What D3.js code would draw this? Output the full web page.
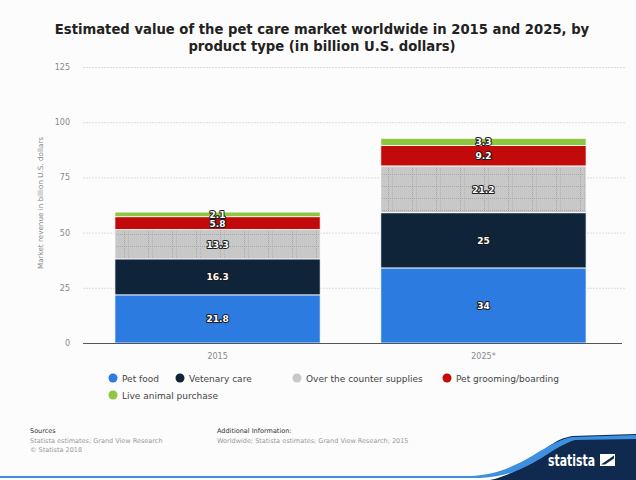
<!DOCTYPE html>
<html>
<head>
<meta charset="utf-8">
<script src="https://cdn.jsdelivr.net/npm/d3@7/dist/d3.min.js"></script>
<style>
  html, body { margin: 0; padding: 0; background: #fff; }
  svg { display: block; }
</style>
</head>
<body>
<svg id="chart" width="636" height="480"></svg>
<script>
// Pet care market value by product type (billion U.S. dollars)
const years = ["2015", "2025*"];
const segments = ["Pet food", "Vetenary care", "Over the counter supplies", "Pet grooming/boarding", "Live animal purchase"];
const petFood = [21.8, 34];
const vetCare = [16.3, 25];
const otcSupplies = [13.3, 21.2];
const grooming = [5.8, 9.2];
const liveAnimal = [2.1, 3.3];
const yTicks = [0, 25, 50, 75, 100, 125];
const colors = ["#2b7be0", "#0f2438", "#c8c8c8", "#c20a0a", "#8dc63f"];

const seriesValues = [petFood, vetCare, otcSupplies, grooming, liveAnimal];
const rows = years.map((y, i) => {
  const r = { year: y };
  segments.forEach((s, k) => { r[s] = seriesValues[k][i]; });
  return r;
});

const svg = d3.select("#chart");
const W = 636, H = 480;

svg.append("rect").attr("width", W).attr("height", H).attr("fill", "#fcfcfc");

// hatch pattern for the supplies segment
const defs = svg.append("defs");
const pat = defs.append("pattern").attr("id", "hatch")
  .attr("patternUnits", "userSpaceOnUse").attr("width", 24).attr("height", 12);
pat.append("rect").attr("width", 24).attr("height", 12).attr("fill", colors[2]);
pat.append("line").attr("x1", 0).attr("x2", 24).attr("y1", 6.5).attr("y2", 6.5)
  .attr("stroke", "#9a9a9a").attr("stroke-width", 0.7).attr("stroke-dasharray", "1,1");
pat.append("line").attr("x1", 4.5).attr("x2", 4.5).attr("y1", 0).attr("y2", 12)
  .attr("stroke", "#9a9a9a").attr("stroke-width", 0.7).attr("stroke-dasharray", "1,1");
pat.append("line").attr("x1", 8.5).attr("x2", 8.5).attr("y1", 0).attr("y2", 12)
  .attr("stroke", "#a8a8a8").attr("stroke-width", 0.6).attr("stroke-dasharray", "1,1");

// title
const titleLines = [
  "Estimated value of the pet care market worldwide in 2015 and 2025, by",
  "product type (in billion U.S. dollars)"
];
svg.append("g").selectAll("text").data(titleLines).join("text")
  .attr("x", 322).attr("y", (d, i) => 34 + i * 17).attr("text-anchor", "middle")
  .attr("font-family", "DejaVu Sans, sans-serif").attr("font-weight", "bold")
  .attr("font-size", 13.2).attr("fill", "#222")
  .text(d => d);

const x = d3.scaleBand().domain(years).range([83, 618]).paddingInner(0.228).paddingOuter(0.12);
const y = d3.scaleLinear().domain([0, 125]).range([343, 67]);

// gridlines
svg.append("g").selectAll("line").data(yTicks.filter(t => t > 0)).join("line")
  .attr("x1", 83).attr("x2", 625)
  .attr("y1", d => y(d) + 0.5).attr("y2", d => y(d) + 0.5)
  .attr("stroke", "#dcdcdc").attr("stroke-width", 1).attr("stroke-dasharray", "2,1");

// y axis labels
const yAxis = d3.axisLeft(y).tickValues(yTicks).tickSize(0).tickPadding(0);
const gy = svg.append("g").attr("transform", "translate(70,0)").call(yAxis);
gy.select(".domain").remove();
gy.selectAll("text").attr("font-family", "DejaVu Sans, sans-serif")
  .attr("font-size", 8).attr("fill", "#888");

svg.append("text").attr("transform", "translate(43,203) rotate(-90)")
  .attr("text-anchor", "middle").attr("font-family", "DejaVu Sans, sans-serif")
  .attr("font-size", 7.2).attr("fill", "#888")
  .text("Market revenue in billion U.S. dollars");

// stacked bars
const stacked = d3.stack().keys(segments)(rows);
const layers = svg.append("g").selectAll("g").data(stacked).join("g")
  .attr("fill", (d, i) => i === 2 ? "url(#hatch)" : colors[i]);
layers.selectAll("rect").data(d => d).join("rect")
  .attr("x", d => x(d.data.year))
  .attr("width", x.bandwidth())
  .attr("y", d => y(d[1]))
  .attr("height", d => y(d[0]) - y(d[1]))
  .attr("stroke", "#fff").attr("stroke-width", 0.8);

// x axis
const gx = svg.append("g").attr("transform", "translate(0,343.5)")
  .call(d3.axisBottom(x).tickSize(0).tickPadding(10));
gx.select(".domain").attr("stroke", "#555").attr("d", "M83,0H622");
gx.selectAll("text").attr("font-family", "DejaVu Sans, sans-serif")
  .attr("font-size", 8).attr("fill", "#888");

// value labels
const lbl = svg.append("g");
stacked.forEach(layer => {
  layer.forEach(d => {
    const v = d.data[layer.key];
    const cy = (y(d[0]) + y(d[1])) / 2;
    lbl.append("text")
      .attr("x", x(d.data.year) + x.bandwidth() / 2)
      .attr("y", cy + 3.5)
      .attr("text-anchor", "middle")
      .attr("font-family", "DejaVu Sans, sans-serif")
      .attr("font-weight", "bold").attr("font-size", 9)
      .attr("fill", "#fff").attr("stroke", "#1a1a1a").attr("stroke-width", 2)
      .attr("paint-order", "stroke").attr("stroke-linejoin", "round")
      .text(v);
  });
});

// legend
const legendItems = [
  { k: 0, x: 113, y: 378 }, { k: 1, x: 180, y: 378 }, { k: 2, x: 297, y: 378 },
  { k: 3, x: 447, y: 378 }, { k: 4, x: 113, y: 395 }
];
const lg = svg.append("g");
legendItems.forEach(it => {
  lg.append("circle").attr("cx", it.x).attr("cy", it.y).attr("r", 4.5)
    .attr("fill", colors[it.k]);
  lg.append("text").attr("x", it.x + 9).attr("y", it.y + 3.5)
    .attr("font-family", "DejaVu Sans, sans-serif").attr("font-size", 9)
    .attr("fill", "#444").text(segments[it.k]);
});

// footer
const foot = svg.append("g").attr("font-family", "DejaVu Sans, sans-serif").attr("font-size", 6.5);
foot.append("text").attr("x", 30).attr("y", 433).attr("fill", "#333").text("Sources");
foot.append("text").attr("x", 30).attr("y", 443).attr("fill", "#999").text("Statista estimates; Grand View Research");
foot.append("text").attr("x", 30).attr("y", 452).attr("fill", "#999").text("© Statista 2018");
foot.append("text").attr("x", 217).attr("y", 433).attr("fill", "#333").text("Additional Information:");
foot.append("text").attr("x", 217).attr("y", 443).attr("fill", "#999").text("Worldwide; Statista estimates; Grand View Research; 2015");

// logo swoosh
svg.append("path")
  .attr("d", "M490,480 C535,470 540,442 572,436 L636,434 L636,480 Z")
  .attr("fill", "#0f2a4e");
svg.append("path")
  .attr("d", "M0,476 L470,476 C520,474 540,444 572,437 L636,435 L636,439 L575,440 C548,448 530,476 480,478 L0,478 Z")
  .attr("fill", "#3d8fe0");
svg.append("text").attr("x", 548).attr("y", 466)
  .attr("font-family", "DejaVu Sans Condensed, DejaVu Sans, sans-serif").attr("font-weight", "bold")
  .attr("font-size", 15).attr("fill", "#fff").attr("text-anchor", "start")
  .attr("textLength", 47).attr("lengthAdjust", "spacingAndGlyphs")
  .text("statista");
// square brand mark
svg.append("rect").attr("x", 600).attr("y", 454).attr("width", 15).attr("height", 12)
  .attr("fill", "#ffffff");
svg.append("path").attr("d", "M601,464.5 L614,455.5 L614,458.5 L605,464.5 Z")
  .attr("fill", "#0f2a4e");
</script>
</body>
</html>
